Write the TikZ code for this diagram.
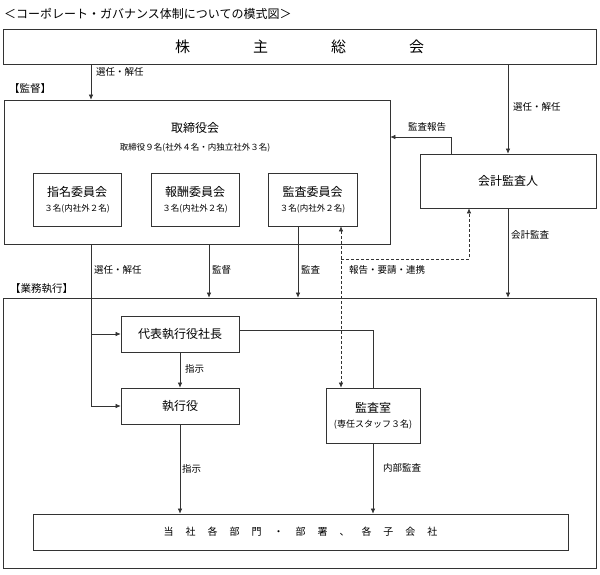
\documentclass[tikz,border=0pt]{standalone}
\usepackage{fontspec}
\setmainfont{Noto Sans CJK JP}
\usetikzlibrary{arrows.meta}
\newcommand{\sgap}{\hspace{12pt}}
\newcommand{\bgap}{\hspace{63pt}}

\begin{document}
\begin{tikzpicture}[x=1pt,y=-1pt,
    >={Latex[length=5pt,width=4.5pt]},
    box/.style={draw=black!80,line width=0.7pt,inner sep=0pt,align=center},
    lbl/.style={anchor=west,inner sep=0pt,font=\fontsize{9.5}{10}\selectfont},
    head/.style={anchor=west,inner sep=0pt,font=\fontsize{10.5}{11}\selectfont},
    big/.style={font=\fontsize{12}{14}\selectfont},
    small/.style={font=\fontsize{8.5}{10}\selectfont},
    ln/.style={line width=0.6pt,draw=black!80},
    dsh/.style={ln,dash pattern=on 3pt off 2pt}]
        \useasboundingbox (0,0) rectangle (600,574);
        % lanes and rows for the connectors
        \coordinate (laneA) at (91,0);
        \coordinate (laneC) at (451,0);
        \coordinate (laneD) at (209,0);
        \coordinate (laneE) at (298,0);
        \coordinate (laneF) at (341,0);
        \coordinate (laneG) at (469,0);
        \coordinate (rowA) at (0,137);
        \coordinate (rowB) at (0,259);
        \coordinate (rowC) at (0,330);
        % boxes
        \node (title) [anchor=west,inner sep=0pt,font=\fontsize{12}{12}\selectfont] at (4,14) {＜コーポレート・ガバナンス体制についての模式図＞};
        \node (gms) [box,minimum width=593pt,minimum height=35pt,font=\fontsize{15}{15}\selectfont] at (299.5,46.5) {株\bgap 主\bgap 総\bgap 会};
        \node (kansoku) [head] at (9,89) {【監督】};
        \node (board) [box,minimum width=386pt,minimum height=144pt] at (197,172) {};
        \node (boardname) [big] at (195,128) {取締役会};
        \node (boardsub) [small] at (195,148) {取締役９名(社外４名・内独立社外３名)};
        \node (nomcom) [box,minimum width=88pt,minimum height=53pt] at (77,199.5) {{\fontsize{12}{14}\selectfont 指名委員会}\\[3pt]{\fontsize{8.5}{10}\selectfont ３名(内社外２名)}};
        \node (remcom) [box,minimum width=88pt,minimum height=53pt] at (195,199.5) {{\fontsize{12}{14}\selectfont 報酬委員会}\\[3pt]{\fontsize{8.5}{10}\selectfont ３名(内社外２名)}};
        \node (audcom) [box,minimum width=89pt,minimum height=53pt] at (312.5,199.5) {{\fontsize{12}{14}\selectfont 監査委員会}\\[3pt]{\fontsize{8.5}{10}\selectfont ３名(内社外２名)}};
        \node (auditor) [box,big,minimum width=176pt,minimum height=54pt] at (508,181) {会計監査人};
        \node (gyomu) [head] at (10,289) {【業務執行】};
        \node (execarea) [box,minimum width=593pt,minimum height=270pt] at (299.5,433) {};
        \node (ceo) [box,big,minimum width=118pt,minimum height=36pt] at (180,334) {代表執行役社長};
        \node (officer) [box,big,minimum width=118pt,minimum height=36pt] at (180,406) {執行役};
        \node (auditroom) [box,minimum width=94pt,minimum height=55pt] at (373,415.5) {{\fontsize{12}{14}\selectfont 監査室}\\[3pt]{\fontsize{9}{10}\selectfont (専任スタッフ３名)}};
        \node (depts) [box,minimum width=535pt,minimum height=36pt,font=\fontsize{10}{10}\selectfont] at (300.5,532) {当\sgap 社\sgap 各\sgap 部\sgap 門\sgap ・\sgap 部\sgap 署\sgap 、\sgap 各\sgap 子\sgap 会\sgap 社};
        % connectors
        \draw [ln,->] (gms.south -| laneA) -- (board.north -| laneA);
        \draw [ln,->] (gms.south -| auditor.north) -- (auditor.north);
        \draw [ln,->] (auditor.north -| laneC) |- (board.east |- rowA);
        \draw [ln,->] (auditor.south) -- (execarea.north -| auditor.south);
        \draw [ln,->] (board.south -| laneA) |- (officer.west);
        \draw [ln,->] (laneA |- ceo.west) -- (ceo.west);
        \draw [ln,->] (board.south -| laneD) -- (execarea.north -| laneD);
        \draw [ln,->] (audcom.south -| laneE) -- (execarea.north -| laneE);
        \draw [dsh,<->] (audcom.south -| laneF) -- (auditroom.north -| laneF);
        \draw [dsh,->] (laneF |- rowB) -| (auditor.south -| laneG);
        \draw [ln,->] (ceo.south) -- (officer.north);
        \draw [ln] (ceo.east |- rowC) -| (auditroom.north);
        \draw [ln,->] (officer.south) -- (depts.north -| officer.south);
        \draw [ln,->] (auditroom.south) -- (depts.north -| auditroom.south);
        % labels
        \node (l1) [lbl] at (96,72) {選任・解任};
        \node (l2) [lbl] at (513,107) {選任・解任};
        \node (l3) [lbl] at (408,127) {監査報告};
        \node (l4) [lbl] at (511,235) {会計監査};
        \node (l5) [lbl] at (94,270) {選任・解任};
        \node (l6) [lbl] at (212,270) {監督};
        \node (l7) [lbl] at (301,270) {監査};
        \node (l8) [lbl] at (349,270) {報告・要請・連携};
        \node (l9) [lbl] at (185,369) {指示};
        \node (l10) [lbl] at (182,469) {指示};
        \node (l11) [lbl] at (383,468) {内部監査};
    \end{tikzpicture}
\end{document}
